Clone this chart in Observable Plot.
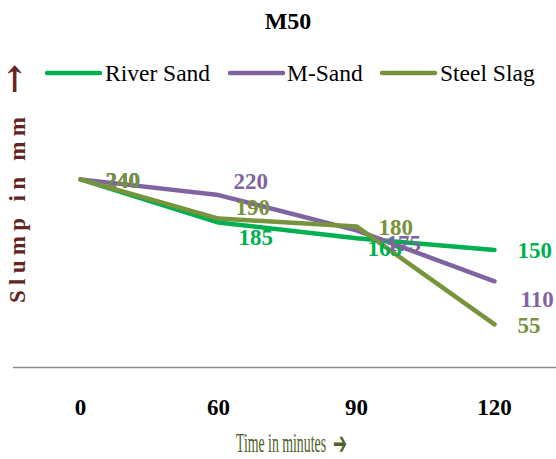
<!DOCTYPE html>
<html>
<head>
<meta charset="utf-8">
<script src="https://cdn.jsdelivr.net/npm/d3@7"></script>
<script src="https://cdn.jsdelivr.net/npm/@observablehq/plot@0.6"></script>
<style>
  html, body { margin: 0; padding: 0; background: #fff; }
  #chart { width: 556px; height: 459px; }
</style>
</head>
<body>
<div id="chart"></div>
<script>
// Slump loss over time for M50 concrete with three fine aggregates
const times = ["0", "60", "90", "120"];
const seriesNames = ["River Sand", "M-Sand", "Steel Slag"];
const riverSand = [240, 185, 165, 150];
const mSand = [240, 220, 175, 110];
const steelSlag = [240, 190, 180, 55];
const seriesColors = ["#00b050", "#8064a2", "#77933c"];

// Placement of each value label relative to its point: [dx, dy] in pixels
const labelOffsets = [
  [[25, 1], [20, 15], [11, 10], [23, 1]],
  [[25, 1], [15, -13], [30, 13], [26, 18]],
  [[25, 1], [17, -11], [22, 1], [23, 1]]
];

const serif = "'Liberation Serif', 'Times New Roman', serif";
const seriesValues = [riverSand, mSand, steelSlag];

const rows = seriesNames.flatMap((name, i) =>
  times.map((t, j) => ({series: name, time: t, slump: seriesValues[i][j], i, j}))
);

const labelMarks = rows.map(r => Plot.text([r], {
  x: "time",
  y: "slump",
  text: d => String(d.slump),
  fill: "series",
  dx: labelOffsets[r.i][r.j][0],
  dy: labelOffsets[r.i][r.j][1],
  textAnchor: "start",
  fontSize: 23,
  fontWeight: "bold",
  fontFamily: serif
}));

const pxPerUnit = 0.7838;
const chart = Plot.plot({
  width: 556,
  height: 459,
  marginLeft: 13,
  marginRight: 0,
  marginTop: 0,
  marginBottom: 92,
  style: {fontFamily: serif, background: "#fff", color: "#000", overflow: "visible"},
  x: {type: "point", domain: times, range: [80, 494], padding: 0, label: null},
  y: {domain: [0, 300], range: [367, 367 - 300 * pxPerUnit], axis: null},
  color: {domain: seriesNames, range: seriesColors},
  marks: [
    Plot.ruleY([0], {stroke: "#8c8c8c", strokeWidth: 1.5}),
    Plot.line(rows, {
      x: "time", y: "slump", z: "series", stroke: "series",
      strokeWidth: 4.5, strokeLinecap: "round", strokeLinejoin: "round"
    }),
    ...labelMarks,
    Plot.axisX({tickSize: 0, tickPadding: 31, fontSize: 23, fontWeight: "bold", fill: "#000", label: null})
  ]
});

const svg = d3.select(chart);

// Title
svg.append("text")
  .attr("x", 288).attr("y", 29)
  .attr("text-anchor", "middle")
  .style("font-family", serif).style("font-size", "24px").style("font-weight", "bold")
  .attr("fill", "#000")
  .text("M50");

// Legend
const legendItems = [
  {x1: 47, x2: 100, tx: 105},
  {x1: 230, x2: 283, tx: 287},
  {x1: 382, x2: 435, tx: 440}
];
const legend = svg.append("g").attr("text-anchor", "start");
seriesNames.forEach((name, i) => {
  const it = legendItems[i];
  legend.append("line")
    .attr("x1", it.x1).attr("x2", it.x2).attr("y1", 73).attr("y2", 73)
    .attr("stroke", seriesColors[i]).attr("stroke-width", 4.5)
    .attr("stroke-linecap", "round");
  legend.append("text")
    .attr("x", it.tx).attr("y", 81)
    .style("font-family", serif).style("font-size", "23.5px")
    .attr("fill", "#000")
    .text(name);
});

// Y axis title (rotated, letter-spaced) with arrow
const yTitle = svg.append("g").attr("fill", "#632523").attr("text-anchor", "start")
  .style("font-family", serif).style("font-weight", "bold");
yTitle.append("text")
  .attr("transform", "translate(25,303) rotate(-90)")
  .style("font-size", "23px")
  .attr("textLength", 186).attr("lengthAdjust", "spacing")
  .text("Slump in mm");
yTitle.append("text")
  .attr("transform", "translate(25,94) rotate(-90)")
  .style("font-family", "'DejaVu Serif', serif")
  .style("font-size", "32px")
  .attr("textLength", 30).attr("lengthAdjust", "spacingAndGlyphs")
  .text("→");

// X axis title (condensed) with arrow
const xTitle = svg.append("g").attr("fill", "#4f6228").attr("text-anchor", "start");
xTitle.append("text")
  .attr("x", 236).attr("y", 452)
  .style("font-family", serif).style("font-size", "27px")
  .attr("textLength", 90).attr("lengthAdjust", "spacingAndGlyphs")
  .text("Time in minutes");
xTitle.append("text")
  .attr("x", 333).attr("y", 454)
  .style("font-family", "'DejaVu Sans', sans-serif").style("font-size", "31px")
  .style("font-weight", "bold")
  .attr("textLength", 14).attr("lengthAdjust", "spacingAndGlyphs")
  .text("➔");

document.getElementById("chart").appendChild(chart);
</script>
</body>
</html>
